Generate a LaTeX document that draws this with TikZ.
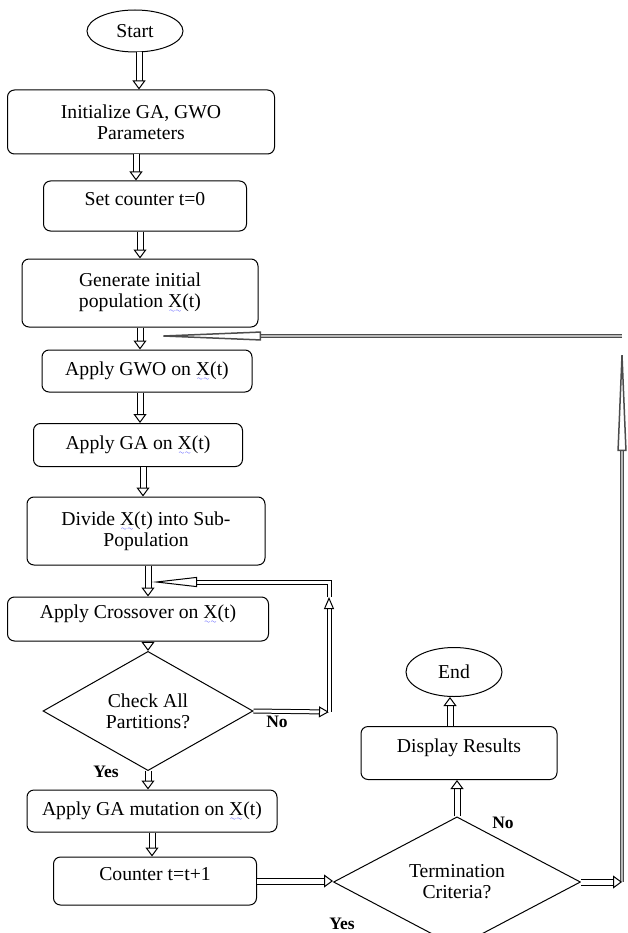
\documentclass[tikz,border=0pt]{standalone}
\usepackage{fontspec}
\setmainfont{Liberation Serif}
\usepackage{tikz}
\usetikzlibrary{arrows.meta,shapes.geometric}
\font\wavefont=lasy6
\newcommand{\wavyx}{\leavevmode\setbox0\hbox{X}\rlap{\lower5pt\hbox to\wd0{\color{blue}\xleaders\hbox{\wavefont\char58}\hfil}}X}

\begin{document}
\begin{tikzpicture}[x=1pt,y=-1pt,font=\fontsize{19.7}{21}\selectfont,
  box/.style={draw, rounded corners=7pt, align=center, inner sep=2pt, line width=1pt},
  upper/.style={text depth=15pt},
  term/.style={draw, ellipse, inner sep=0pt, line width=1pt},
  dec/.style={draw, diamond, align=center, inner sep=0pt, line width=1pt},
  flow/.style={double, double distance=5pt, line width=1pt, -{Triangle[fill=white, length=9pt, width=13pt]}},
  back/.style={double, double distance=3pt, line width=1pt},
  grayback/.style={draw=gray!60!black, double=gray!55, double distance=1.2pt, line width=1.5pt},
  lbl/.style={font=\fontsize{17.5}{19}\selectfont\bfseries}]

\useasboundingbox (0,0) rectangle (627,933);

\node (start) [term, minimum width=96pt, minimum height=42pt] at (135,31) {Start};
\node (init) [box, minimum width=267pt, minimum height=64pt] at (141,122) {Initialize GA, GWO\\Parameters};
\node (cnt0) [box, upper, minimum width=203pt, minimum height=50pt] at (145,206) {Set counter t=0};
\node (gen) [box, minimum width=236pt, minimum height=68pt] at (140,293) {Generate initial\\population \wavyx(t)};
\node (gwo) [box, minimum width=210pt, minimum height=42pt] at (147,371) {Apply GWO on \wavyx(t)};
\node (ga) [box, minimum width=209pt, minimum height=43pt] at (138,445) {Apply GA on \wavyx(t)};
\node (div) [box, minimum width=238pt, minimum height=68pt] at (146,531) {Divide \wavyx(t) into Sub-\\Population};
\node (cross) [box, upper, minimum width=261pt, minimum height=44pt] at (138,619) {Apply Crossover on \wavyx(t)};
\node (check) [dec, minimum width=210pt, minimum height=92pt] at (148,711) {Check All\\Partitions?};
\node (mut) [box, minimum width=250pt, minimum height=42pt] at (152,811) {Apply GA mutation on \wavyx(t)};
\node (cnt) [box, upper, minimum width=203pt, minimum height=48pt] at (155,881) {Counter t=t+1};
\node (crit) [dec, minimum width=247pt, minimum height=94pt] at (457,882) {Termination\\Criteria?};
\node (disp) [box, upper, minimum width=196pt, minimum height=53pt] at (459,753) {Display Results};
\node (stop) [term, minimum width=96pt, minimum height=49pt] at (454,672) {End};

\node (yes1) [lbl] at (106,772) {Yes};
\node (no1) [lbl] at (277,722) {No};
\node (no2) [lbl] at (503,823) {No};
\node (yes2) [lbl] at (342,924) {Yes};

% loop corners
\coordinate (nb) at (329,712);
\coordinate (nm) at (329,597);
\coordinate (nt) at (329,582);
\coordinate (nj) at (152,582);
\coordinate (rb) at (622,882);
\coordinate (rt) at (622,336);
\coordinate (rj) at (144,336);

% feedback loops
\draw [grayback, -{Triangle[fill=white, length=115pt, width=9pt]}] (rb) -- (rt);
\draw [grayback, -{Triangle[fill=white, length=117pt, width=9pt]}] (rt) -- (rj);
\draw [back, -{Triangle[fill=white, length=10pt, width=11pt]}] (check.east) -- (nb);
\draw [back, -{Triangle[fill=white, length=12pt, width=10pt]}] (nb) -- (nm);
\draw [back, -{Triangle[fill=white, length=45pt, width=10pt]}] (nm) -- (nt) -- (nj);

% main flow
\draw [flow] ([xshift=4pt]start.south) -- ([xshift=4pt]start.south |- init.north);
\draw [flow] ([xshift=-5pt]init.south) -- ([xshift=-5pt]init.south |- cnt0.north);
\draw [flow] ([xshift=-5pt]cnt0.south) -- ([xshift=-5pt]cnt0.south |- gen.north);
\draw [flow] (gen.south) -- (gen.south |- gwo.north);
\draw [flow] ([xshift=-7pt]gwo.south) -- ([xshift=-7pt]gwo.south |- ga.north);
\draw [flow] ([xshift=5pt]ga.south) -- ([xshift=5pt]ga.south |- div.north);
\draw [flow] ([xshift=2pt]div.south) -- ([xshift=2pt]div.south |- cross.north);
\draw [flow] ([xshift=10pt]cross.south) -- ([xshift=10pt]cross.south |- check.north);
\draw [flow] (check.south) -- (check.south |- mut.north);
\draw [flow] (mut.south) -- (mut.south |- cnt.north);
\draw [flow] (cnt.east) -- (cnt.east -| crit.west);
\draw [flow] (crit.east) -- (rb);
\draw [flow] (crit.north) -- (crit.north |- disp.south);
\draw [flow] ([xshift=-9pt]disp.north) -- ([xshift=-9pt]disp.north |- stop.south);
\end{tikzpicture}
\end{document}
